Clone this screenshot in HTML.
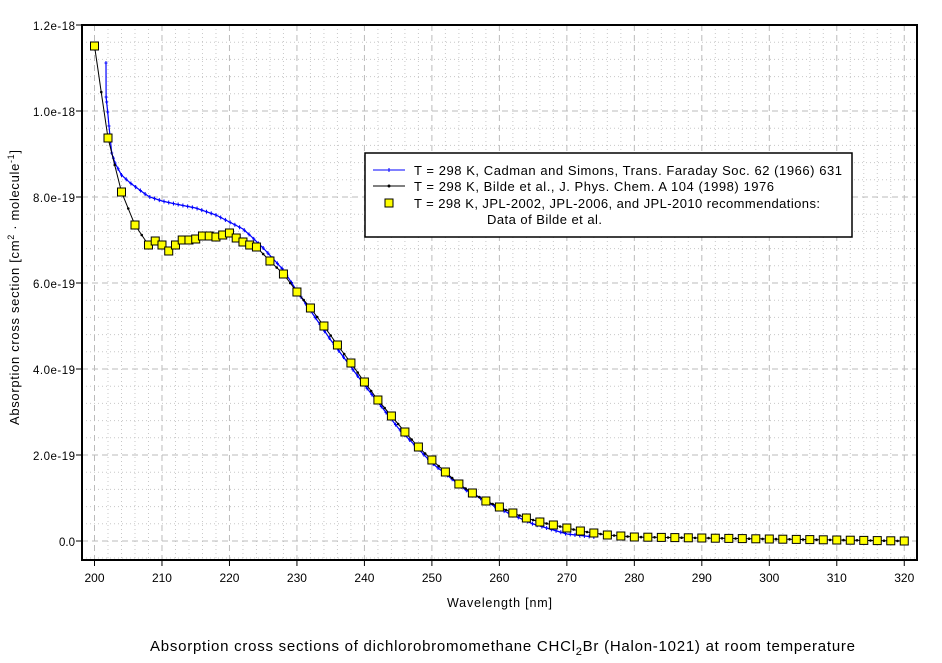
<!DOCTYPE html>
<html><head><meta charset="utf-8"><style>
html,body{margin:0;padding:0;background:#fff;}
svg{display:block;font-family:"Liberation Sans",sans-serif;}
</style></head><body>
<svg id="s" width="942" height="663" viewBox="0 0 942 663" xmlns="http://www.w3.org/2000/svg">
<g id="grid"></g>
<rect x="82" y="25" width="835" height="535" fill="none" stroke="#000" stroke-width="2"/>
<g id="ticks" stroke="#000" stroke-width="1"></g>
<g font-size="11.5" fill="#000" text-anchor="end">
<text x="75" y="546">0.0</text>
<text x="75" y="460" textLength="42">2.0e-19</text>
<text x="75" y="374" textLength="42">4.0e-19</text>
<text x="75" y="288" textLength="42">6.0e-19</text>
<text x="75" y="202" textLength="42">8.0e-19</text>
<text x="75" y="116" textLength="42">1.0e-18</text>
<text x="75" y="30" textLength="42">1.2e-18</text>
</g>
<g font-size="12" fill="#000" text-anchor="middle" id="xl"></g>
<text x="447" y="607" font-size="12.5" textLength="105">Wavelength [nm]</text>
<text transform="translate(19,425) rotate(-90)" font-size="13" textLength="275">Absorption cross section [cm<tspan font-size="9" dy="-5">2</tspan><tspan dy="5"> · molecule</tspan><tspan font-size="9" dy="-5">-1</tspan><tspan dy="5">]</tspan></text>
<text x="150" y="651" font-size="15" textLength="705">Absorption cross sections of dichlorobromomethane CHCl<tspan font-size="11" dy="4">2</tspan><tspan dy="-4">Br (Halon-1021) at room temperature</tspan></text>
<g id="data"></g>
<rect x="365" y="153" width="487" height="84" fill="#fff" stroke="#000" stroke-width="1.5"/>
<line x1="373" y1="170" x2="405" y2="170" stroke="#00f" stroke-width="1"/>
<line x1="389" y1="168" x2="389" y2="172" stroke="#00f"/>
<line x1="373" y1="186" x2="405" y2="186" stroke="#000" stroke-width="1"/>
<circle cx="389" cy="186" r="1.5" fill="#000"/>
<rect x="385" y="199" width="8" height="8" fill="#ff0" stroke="#000"/>
<g font-size="13" fill="#000">
<text x="414" y="175" textLength="428">T = 298 K, Cadman and Simons, Trans. Faraday Soc. 62 (1966) 631</text>
<text x="414" y="191" textLength="360">T = 298 K, Bilde et al., J. Phys. Chem. A 104 (1998) 1976</text>
<text x="414" y="208" textLength="406">T = 298 K, JPL-2002, JPL-2006, and JPL-2010 recommendations:</text>
<text x="487" y="224" textLength="115">Data of Bilde et al.</text>
</g>
</svg>
<script>
const NS="http://www.w3.org/2000/svg";
function el(p,t,a){const e=document.createElementNS(NS,t);for(const k in a)e.setAttribute(k,a[k]);p.appendChild(e);return e;}
const X=w=>94.5+(w-200)*6.748;
const g=document.getElementById('grid'),tk=document.getElementById('ticks'),xl=document.getElementById('xl'),d=document.getElementById('data');
for(let w=200;w<=320;w+=2){if((w%10)==0)continue;el(g,'line',{x1:X(w),x2:X(w),y1:25,y2:560,stroke:'#c8c8c8','stroke-dasharray':'1,3'});}
for(let i=0;i<30;i++){const y=541-i*17.2;if(i%5==0)continue;if(y<25)continue;el(g,'line',{x1:82,x2:917,y1:y,y2:y,stroke:'#c8c8c8','stroke-dasharray':'1,3'});}
el(g,'line',{x1:82,x2:917,y1:558,y2:558,stroke:'#c8c8c8','stroke-dasharray':'1,3'});
for(let w=200;w<=320;w+=10){el(g,'line',{x1:X(w),x2:X(w),y1:25,y2:560,stroke:'#bbb','stroke-dasharray':'6,4'});el(tk,'line',{x1:X(w),x2:X(w),y1:560,y2:566});const t=el(xl,'text',{x:X(w),y:582});t.textContent=w;}
for(let i=0;i<=6;i++){const y=541-i*86;el(g,'line',{x1:82,x2:917,y1:y,y2:y,stroke:'#bbb','stroke-dasharray':'6,4'});el(tk,'line',{x1:76,x2:82,y1:y,y2:y});}
const J=[[200,46],[202,138],[204,192],[206,225],[208,245],[209,241],[210,245],[211,251],[212,245],[213,240],[214,240],[215,239],[216,236],[217,236],[218,237],[219,235],[220,233],[221,238],[222,242],[223,245],[224,247],[226,261],[228,274],[230,292],[232,308],[234,326],[236,345],[238,363],[240,382],[242,400],[244,416],[246,432],[248,447],[250,460],[252,472],[254,484],[256,493],[258,501],[260,507],[262,513],[264,518],[266,522],[268,525],[270,528],[272,531],[274,533],[276,535],[278,536],[280,537]];
for(let w=282;w<=320;w+=2)J.push([w,537+4*(w-280)/40]);
function interp(arr,w){for(let i=0;i<arr.length-1;i++){if(w>=arr[i][0]&&w<=arr[i+1][0]){const t=(w-arr[i][0])/(arr[i+1][0]-arr[i][0]);return arr[i][1]+t*(arr[i+1][1]-arr[i][1]);}}return arr[arr.length-1][1];}
let bp='';const B=[];
for(let w=200;w<=320;w+=0.5){const y=interp(J,w);bp+=(bp?'L':'M')+X(w).toFixed(1)+' '+y.toFixed(1);if(w%1==0)B.push([X(w),y]);}
const C=[[201.7,63],[201.72,97],[201.96,112],[202.15,126],[202.55,153],[203.04,163],[204,175],[205.3,183],[207.5,194],[208.2,197],[210,201],[212,204],[215,208],[218,215],[220,222],[222,229],[223,235],[225,248],[228,270],[230,291],[235,340],[240,385],[245,428],[250,463],[255,490],[260,509],[265,524],[270,534],[274,537]];
let cp='';
for(const p of C){cp+=(cp?'L':'M')+X(p[0]).toFixed(1)+' '+p[1];}
el(d,'path',{d:cp,fill:'none',stroke:'#00f','stroke-width':1.2});
const bm=[201.7,201.72,201.8,201.96,202.15,202.35,202.55,202.8,203.04,203.5];
for(let w=204;w<=274;w+=0.7)bm.push(w);
bm.forEach(w=>{const x=X(w),y=interp(C,w);el(d,'line',{x1:x,x2:x,y1:y-2,y2:y+2,stroke:'#00f'});el(d,'line',{x1:x-1.5,x2:x+1.5,y1:y,y2:y,stroke:'#00f'});});
el(d,'path',{d:bp,fill:'none',stroke:'#000','stroke-width':1});
B.forEach(p=>el(d,'circle',{cx:p[0],cy:p[1],r:1.3,fill:'#000'}));
J.forEach(p=>el(d,'rect',{x:X(p[0])-4,y:p[1]-4,width:8,height:8,fill:'#ff0',stroke:'#000','stroke-width':1}));
</script>
</body></html>
